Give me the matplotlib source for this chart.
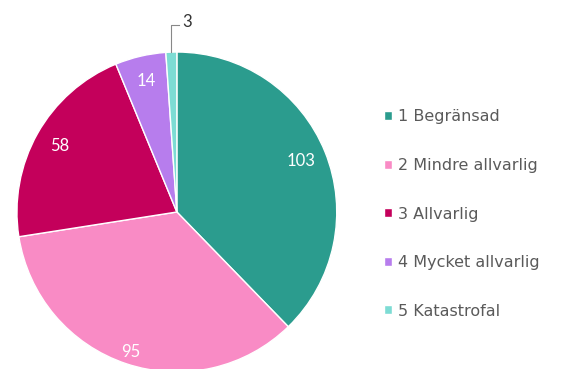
import matplotlib.pyplot as plt
import numpy as np

categories = ['1 Begränsad', '2 Mindre allvarlig', '3 Allvarlig',
              '4 Mycket allvarlig', '5 Katastrofal']
counts = [103, 95, 58, 14, 3]
colors = ['#2b9c8e', '#f98bc5', '#c4005b', '#b77ded', '#7ddcd4']

plt.rcParams['font.family'] = ['Lato', 'DejaVu Sans']

fig = plt.figure(figsize=(5.65, 3.69), dpi=100)
ax = fig.add_axes([0.030, -0.008, 0.566, 0.867])

wedges, _ = ax.pie(counts, colors=colors, startangle=90, counterclock=False,
                   radius=1.0, wedgeprops=dict(edgecolor='white', linewidth=1))
ax.set_xlim(-1, 1)
ax.set_ylim(-1, 1)
ax.set_aspect('auto')

# value labels inside the wedges, small one gets a leader line
for w, n in zip(wedges, counts):
    mid = np.deg2rad((w.theta1 + w.theta2) / 2)
    if n < 10:
        x0, y0 = np.cos(mid), np.sin(mid)
        ax.plot([x0, x0, x0 + 0.05], [y0, y0 + 0.17, y0 + 0.17],
                color='#888888', lw=0.8, clip_on=False)
        ax.text(x0 + 0.07, y0 + 0.19, str(n), color='#333333', fontsize=12,
                ha='left', va='center', clip_on=False)
    else:
        r = 0.92 if n == 95 else 0.84
        ax.text(r * np.cos(mid), r * np.sin(mid), str(n), color='white',
                fontsize=12, ha='center', va='center')

fig.legend(wedges, categories, loc='center left', bbox_to_anchor=(0.655, 0.42),
           frameon=False, prop={'family': 'DejaVu Sans', 'size': 11.5},
           handlelength=0.5, handleheight=0.5, handletextpad=0.35,
           labelspacing=2.1, labelcolor='#5a5a5a')

fig.savefig('out.png', dpi=100)
